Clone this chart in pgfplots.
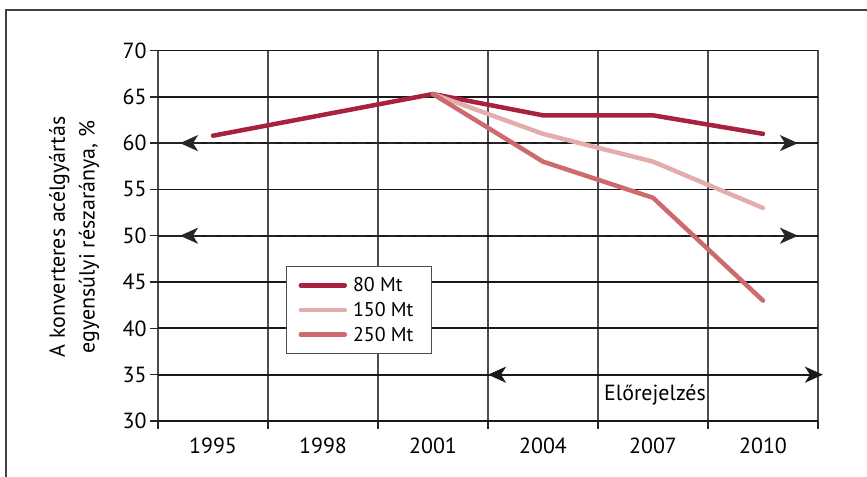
\documentclass[border=0pt]{standalone}
\usepackage{fontspec}
\setmainfont{PT Sans}
\usepackage{pgfplots}
\pgfplotsset{compat=1.18}
\usetikzlibrary{arrows.meta}
\definecolor{c80}{HTML}{A8213F}
\definecolor{c150}{HTML}{E3ADAB}
\definecolor{c250}{HTML}{CC6A6D}

\begin{document}
\begin{tikzpicture}[x=1bp,y=1bp,>={Stealth[length=18bp,width=16bp,inset=5bp]}]
\path[use as bounding box] (0,0) rectangle (867,477);
\draw[line width=2bp,black!75] (6,-5) -- (6,467) -- (872,467);
\begin{axis}[at={(158bp,56bp)}, anchor=south west,
  scale only axis, width=660bp, height=370.5bp,
  xmin=-0.5, xmax=5.5, ymin=30, ymax=70, clip=false,
  xtick={-0.5,0.5,...,5.5},
  xticklabels={1995,1998,2001,2004,2007,2010},
  x tick label as interval,
  ytick={30,35,40,45,55,65,70},
  extra y ticks={50,60},
  extra y tick style={grid style={black!45,line width=0.6bp}},
  grid=major,
  every axis x grid/.append style={black!70,line width=1.2bp},
  every axis y grid/.append style={black!90,line width=1.8bp},
  axis line style={draw=none},
  tick align=outside, xtick pos=bottom, ytick pos=left,
  major tick length=8bp,
  tick style={black!85,line width=1.4bp},
  /pgf/number format/assume math mode=true,
  ticklabel style={font=\fontsize{22}{26}\selectfont},
  xticklabel style={yshift=-5bp},
  ylabel={A konverteres acélgyártás\\egyensúlyi részaránya, \%},
  ylabel style={align=center,font=\fontsize{22}{30}\selectfont,
    at={(axis description cs:-0.127,0.497)},anchor=center},
  legend style={at={(axis cs:0.664,46.73)},anchor=north west,
    draw=black!70,line width=1bp,font=\fontsize{20}{24}\selectfont,
    inner xsep=12bp,inner ysep=9bp,row sep=5bp,
    nodes={inner xsep=6bp}},
  legend image code/.code={\draw[#1,line cap=round] (0bp,0bp) -- (44bp,0bp);},
  legend cell align=left,
]
% annotation arrows
\draw[line width=2bp,black!85] (axis cs:-0.5,60) -- (axis cs:-0.3,60);
\draw[line width=2bp,black!85] (axis cs:5.318,60) -- (axis cs:5.473,60);
\draw[line width=2bp,black!85,dash pattern=on 9bp off 6bp,<->] (axis cs:-0.3,60) -- (axis cs:5.318,60);
\draw[line width=2bp,black!85] (axis cs:-0.5,50) -- (axis cs:-0.3,50);
\draw[line width=2bp,black!85] (axis cs:5.318,50) -- (axis cs:5.473,50);
\draw[line width=2bp,black!85,dash pattern=on 9bp off 6bp,<->] (axis cs:-0.3,50) -- (axis cs:5.318,50);
\draw[line width=2.2bp,black!90,<->] (axis cs:2.5,35) -- (axis cs:5.545,35);
\node[font=\fontsize{22}{26}\selectfont] at (axis cs:4.018,32.85) {Előrejelzés};

\addplot[c80,line width=4.5bp,line cap=round,line join=round] coordinates {(0,60.8) (2,65.3) (3,63.0) (4,63.0) (5,61.0)};
\addlegendentry{80 Mt}
\addplot[c150,line width=4.5bp,line cap=round,line join=round] coordinates {(2,65.3) (3,61.0) (4,58.0) (5,53.0)};
\addlegendentry{150 Mt}
\addplot[c250,line width=4.5bp,line cap=round,line join=round] coordinates {(2,65.3) (3,58.0) (4,54.1) (5,43.0)};
\addlegendentry{250 Mt}
\end{axis}
\end{tikzpicture}
\end{document}
